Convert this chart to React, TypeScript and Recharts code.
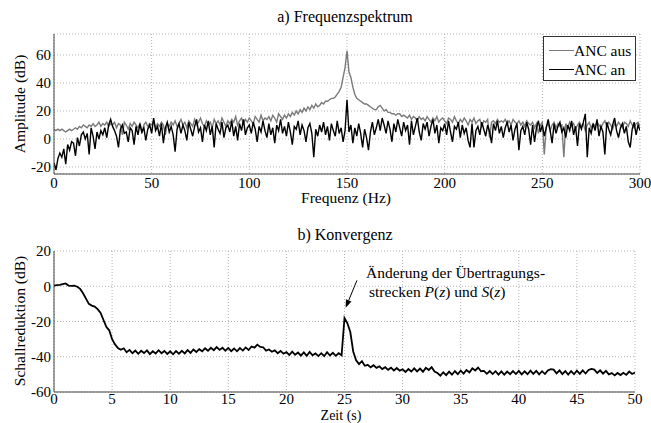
import { LineChart, Line, XAxis, YAxis, CartesianGrid, ReferenceLine } from 'recharts';

const FONT = 'Liberation Serif, DejaVu Serif, Times New Roman, serif';

// a) Frequenzspektrum, 0..300 Hz in 1 Hz steps (dB)
const spectrumAus = [
  7, 6, 7, 6, 7, 6, 5, 6, 7, 6,
  7, 8, 7, 9, 8, 10, 9, 8, 10, 9,
  11, 9, 10, 12, 9, 11, 10, 12, 9, 11,
  10, 12, 8, 11, 10, 3, 12, 10, 7, 11,
  9, 12, 10, 8, 11, 4, 10, 12, 9, 11,
  10, 13, 8, 11, 9, 12, 10, 3, 11, 9,
  12, 10, 13, 9, 11, 14, 10, 12, 8, 13,
  11, 9, 14, 10, 12, 15, 11, 9, 13, 10,
  12, 8, 14, 11, 13, 10, 15, 12, 9, 13,
  11, 14, 12, 16, 10, 13, 15, 11, 14, 12,
  15, 13, 11, 16, 14, 12, 17, 13, 15, 14,
  16, 13, 17, 15, 12, 18, 16, 14, 17, 15,
  18, 16, 19, 17, 20, 18, 21, 19, 22, 20,
  23, 21, 24, 22, 25, 23, 24, 26, 25, 27,
  27, 28, 29, 29, 30, 32, 34, 37, 44, 51,
  63, 48, 44, 37, 32, 29, 28, 27, 26, 25,
  25, 24, 23, 22, 21, 21, 23, 24, 22, 20,
  21, 19, 19, 18, 18, 17, 18, 18, 16, 17,
  16, 15, 17, 14, 16, 15, 13, 16, 14, 15,
  13, 16, 14, 12, 15, 13, 16, 12, 14, 15,
  13, 11, 15, 14, 12, 16, 13, 11, 14, 12,
  15, 13, 10, 14, 12, 15, 11, 13, 14, 9,
  13, 12, 14, 1, 12, 13, 11, 14, 12, 13,
  12, 14, 11, 13, 10, 14, 12, 11, 13, 10,
  12, 9, 13, 11, 10, 12, 8, 11, 4, 10,
  12, -11, 9, 11, 6, 10, 12, 8, 11, 9,
  10, -13, 11, 8, 12, 9, 11, 7, 10, 12,
  9, 11, 6, 10, 12, 8, 11, 9, 12, 10,
  8, 11, 13, 9, 12, 10, 7, 11, 9, 12,
  10, 8, 12, 11, 9, 13, 10, 8, 11, 12,
  9,
];

const spectrumAn = [
  -17, -22, -14, -10, -13, -7, -18, -4, -8, -2,
  -3, -12, 1, -5, 3, 5, 0, 4, -11, 8,
  2, -7, 5, 0, 6, 3, 8, 1, 10, 14,
  9, 6, 2, -6, 7, 10, 4, 5, -2, 8,
  6, -4, 9, 3, 11, 5, 8, -1, 7, 10,
  4, 15, 6, 9, 2, 11, -3, 8, 12, 5,
  9, 3, -9, 7, 11, 4, 10, 6, -1, 12,
  7, 2, 9, 14, 5, 8, -2, 10, 6, 13,
  3, 9, -6, 11, 7, 4, 12, 1, 8, 10,
  5, 13, 2, 9, -1, 11, 6, 14, 3, 8,
  10, 4, 12, 7, -2, 9, 5, 13, 6, 1,
  11, 3, 8, -3, 10, 6, 14, 4, 9, 2,
  12, 5, -4, 9, 7, 13, 3, 10, 6, -2,
  8, 11, 4, -13, 7, 2, 10, 5, 12, 3,
  9, -1, 11, 6, 2, 13, 4, 8, -2, 6,
  28, 5, 10, -3, 8, 2, 11, 4, -6, 7,
  1, -8, 5, 12, 3, 8, 14, 6, 15, 10,
  4, 13, 7, -2, 11, 5, 14, 8, 2, 12,
  6, 10, -4, 13, 3, 9, 15, 5, -1, 11,
  7, 12, 2, 9, 14, 4, 10, -3, 8, 6,
  11, 3, 13, 5, -2, 9, 7, 12, 1, 10,
  4, 8, -1, -6, 11, -6, 6, 9, 3, 12,
  7, 2, 10, 5, -3, 11, 6, 13, 4, 9,
  1, 8, 12, 5, 10, -1, 7, 11, -8, 6,
  9, 3, 12, 7, -4, 10, -2, 8, 13, 5,
  10, 2, 8, 14, 6, -3, 11, 4, 9, 12,
  5, 8, 1, 10, 6, 13, 3, 9, -5, 11,
  7, 12, 18, -13, 8, 4, 11, 6, 14, 2,
  9, 5, -11, 12, 7, 3, 10, 15, 6, 1,
  8, 11, 4, 9, -2, -6, 7, 12, 3, 10,
  6,
];

const freqTicks = [0, 50, 100, 150, 200, 250, 300];
const ampTicks = [-20, 0, 20, 40, 60];

// b) Konvergenz, 0..50 s in 0.25 s steps (dB)
const reduction = [
  0.3, 0.6, 0.8, 1.2, 1.6, 0.4, 0.2, 0.3,
  -0.3, -1.5, -4, -7, -10, -11, -11.5, -13,
  -15, -19, -23, -25, -30, -33, -35, -36,
  -35.2, -37.4, -36.1, -38, -36.5, -38.3, -36.6, -37.9,
  -36.4, -38.5, -36.9, -38.2, -36.3, -38, -36.7, -38.4,
  -36.9, -38.6, -36.8, -38.3, -36.6, -38.1, -36.2, -37.8,
  -35.9, -37.3, -35.7, -36.9, -35.2, -36.6, -34.9, -36.3,
  -34.5, -36.1, -34.9, -36.6, -35, -36.8, -35.3, -36.9,
  -35.1, -36.5, -34.7, -36.2, -34.2, -34.8, -33.1, -34.4,
  -34.6, -36.5, -35.9, -37.2, -36.4, -38, -36.7, -38.3,
  -37.4, -39, -37.1, -38.9, -37.6, -39.4, -37.5, -39.5,
  -37.3, -39.2, -38.1, -39.6, -38, -39.7, -37.4, -39.3,
  -37.8, -39.5, -38, -39.2, -18, -21, -26, -37,
  -42, -44.2, -42.5, -45.1, -44.6, -46, -44.8, -46.3,
  -45.4, -47, -45.9, -47.4, -46.2, -47.8, -46.4, -47.9,
  -47.1, -48.6, -47, -48.4, -46.6, -48.3, -46.7, -48.5,
  -46.3, -47.5, -45.9, -48.4, -49.2, -50.7, -48.8, -50.4,
  -48.4, -50.2, -48.1, -49.9, -47.9, -49.6, -47.5, -48.9,
  -46.6, -47.8, -46.1, -48.2, -48, -49.7, -48.1, -49.8,
  -48.2, -50.1, -48.3, -50.2, -48.4, -49.9, -48.1, -49.8,
  -48, -50, -48.3, -49.9, -47.9, -49.7, -48, -50,
  -48.2, -49.8, -47.8, -47, -47.3, -49.4, -47.7, -49.8,
  -48.1, -50.1, -48.2, -49.9, -47.9, -49.7, -47.7, -49.5,
  -47.5, -46.9, -47.3, -49.2, -47.7, -49.6, -48, -50,
  -49.3, -50.6, -49.2, -50.4, -49.1, -50.3, -48.4, -49.8,
  -49,
];

const timeTicks = [0, 5, 10, 15, 20, 25, 30, 35, 40, 45, 50];
const redTicks = [-60, -40, -20, 0, 20];

const spectrumData = spectrumAus.map((v, i) => ({ f: i, aus: v, an: spectrumAn[i] }));
const convData = reduction.map((v, i) => ({ t: i * 0.25, r: v }));

const tickStyle = { fill: '#000', fontSize: 15, fontFamily: FONT };
const GRID = '#b4b4b4';
const AXIS = '#444';

const ArrowShape = (props: any) => {
  const { x1, y1, x2, y2 } = props;
  const ang = Math.atan2(y2 - y1, x2 - x1);
  const bx = x2 - 8 * Math.cos(ang);
  const by = y2 - 8 * Math.sin(ang);
  const px = -Math.sin(ang) * 3;
  const py = Math.cos(ang) * 3;
  return (
    <g>
      <line x1={x1} y1={y1} x2={bx} y2={by} stroke="#000" strokeWidth={1} />
      <polygon points={`${x2},${y2} ${bx + px},${by + py} ${bx - px},${by - py}`} fill="#000" />
    </g>
  );
};

const textBase: any = { position: 'absolute', fontFamily: FONT, fontSize: 15.5, color: '#000', whiteSpace: 'nowrap', lineHeight: 1 };

export default function App() {
  return (
    <div style={{ position: 'absolute', left: 0, top: 0, width: 651, height: 423, background: '#fff', fontFamily: FONT, overflow: 'hidden' }}>
      <div style={{ ...textBase, fontSize: 16, left: 345, top: 17, transform: 'translate(-50%, -50%)' }}>a) Frequenzspektrum</div>
      <div style={{ position: 'absolute', left: 0, top: 0 }}>
        <LineChart width={651} height={210} data={spectrumData} margin={{ top: 34, right: 11, bottom: 0, left: 0 }}>
          <CartesianGrid strokeDasharray="1 2" stroke={GRID} />
          <XAxis dataKey="f" type="number" domain={[0, 300]} ticks={freqTicks} interval={0} height={36}
            tick={tickStyle} tickLine={false} tickSize={0} tickMargin={3} stroke={AXIS} allowDataOverflow />
          <XAxis xAxisId="top" orientation="top" dataKey="f" type="number" domain={[0, 300]} height={0} tick={false} tickLine={false} stroke={AXIS} />
          <YAxis type="number" domain={[-25, 75]} ticks={ampTicks} interval={0} width={54}
            tick={tickStyle} tickLine={false} tickSize={0} tickMargin={3} stroke={AXIS} allowDataOverflow />
          <YAxis yAxisId="right" orientation="right" domain={[-25, 75]} width={0} tick={false} tickLine={false} stroke={AXIS} />
          <Line dataKey="aus" stroke="#7a7a7a" strokeWidth={1.4} dot={false} isAnimationActive={false} />
          <Line dataKey="an" stroke="#000" strokeWidth={1.4} dot={false} isAnimationActive={false} />
        </LineChart>
      </div>
      <div style={{ position: 'absolute', left: 543, top: 36, width: 93, height: 45, border: '1px solid #333', background: '#fff', boxSizing: 'border-box' }}>
        <div style={{ position: 'absolute', left: 5, top: 13, width: 25, borderTop: '1.5px solid #7a7a7a' }} />
        <div style={{ ...textBase, left: 30, top: 6 }}>ANC aus</div>
        <div style={{ position: 'absolute', left: 5, top: 32, width: 25, borderTop: '1.5px solid #000' }} />
        <div style={{ ...textBase, left: 30, top: 25 }}>ANC an</div>
      </div>
      <div style={{ ...textBase, left: 346, top: 198, transform: 'translate(-50%, -50%)' }}>Frequenz (Hz)</div>
      <div style={{ ...textBase, left: 20, top: 104, transform: 'translate(-50%, -50%) rotate(-90deg)' }}>Amplitude (dB)</div>

      <div style={{ ...textBase, fontSize: 16, left: 345, top: 235, transform: 'translate(-50%, -50%)' }}>b) Konvergenz</div>
      <div style={{ position: 'absolute', left: 0, top: 210 }}>
        <LineChart width={651} height={213} data={convData} margin={{ top: 41, right: 16, bottom: 0, left: 0 }}>
          <CartesianGrid strokeDasharray="1 2" stroke={GRID} />
          <XAxis dataKey="t" type="number" domain={[0, 50]} ticks={timeTicks} interval={0} height={31}
            tick={tickStyle} tickLine={false} tickSize={0} tickMargin={1} stroke={AXIS} allowDataOverflow />
          <XAxis xAxisId="top" orientation="top" dataKey="t" type="number" domain={[0, 50]} height={0} tick={false} tickLine={false} stroke={AXIS} />
          <YAxis type="number" domain={[-60, 20]} ticks={redTicks} interval={0} width={54}
            tick={tickStyle} tickLine={false} tickSize={0} tickMargin={3} stroke={AXIS} allowDataOverflow />
          <YAxis yAxisId="right" orientation="right" domain={[-60, 20]} width={0} tick={false} tickLine={false} stroke={AXIS} />
          <Line dataKey="r" stroke="#000" strokeWidth={1.8} dot={false} isAnimationActive={false} />
          <ReferenceLine segment={[{ x: 26.07, y: 3.3 }, { x: 25.1, y: -12.2 }]} shape={ArrowShape} ifOverflow="visible" />
        </LineChart>
      </div>
      <div style={{ ...textBase, left: 366, top: 265 }}>Änderung der Übertragungs-</div>
      <div style={{ ...textBase, left: 369, top: 284 }}>strecken <i>P</i>(<i>z</i>) und <i>S</i>(<i>z</i>)</div>
      <div style={{ ...textBase, fontSize: 14, left: 341, top: 415.5, transform: 'translate(-50%, -50%)' }}>Zeit (s)</div>
      <div style={{ ...textBase, left: 20, top: 321, transform: 'translate(-50%, -50%) rotate(-90deg)' }}>Schallreduktion (dB)</div>
    </div>
  );
}
